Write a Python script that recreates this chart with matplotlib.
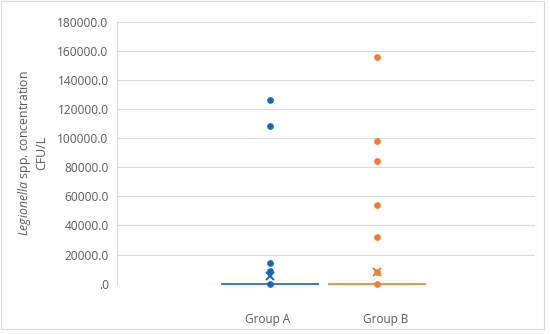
import matplotlib
matplotlib.use("Agg")
import matplotlib.pyplot as plt
from matplotlib.patches import Rectangle
from matplotlib.ticker import FuncFormatter, MultipleLocator

# values (CFU/L)
groups = ["Group A", "Group B"]
colors = ["#1565c0", "#ed7d31"]
points_a = [126000, 108000, 14500, 8500, 0]
points_b = [156000, 98000, 84000, 54000, 32000, 8000, 0]
means = [5200, 7800]
medians = [0, 0]

plt.rcParams['font.family'] = ['Open Sans', 'DejaVu Sans']
plt.rcParams['mathtext.fontset'] = 'custom'
plt.rcParams['mathtext.it'] = 'Open Sans:italic'
plt.rcParams['mathtext.rm'] = 'Open Sans'

fig = plt.figure(figsize=(5.5, 3.34), dpi=100)
W, H = 550, 334
ax = fig.add_axes([117 / W, 1 - 283.7 / H, (535 - 117) / W, (283.7 - 21.7) / H])

# chart border
fig.patches.append(Rectangle((0.5 / W, 1 - 328.5 / H), 543.5 / W, 328 / H,
                             transform=fig.transFigure, fill=False,
                             edgecolor="#d9d9d9", lw=0.8))

width = 0.916
for i, pts in enumerate([points_a, points_b]):
    c = colors[i]
    # collapsed box (quartiles and median all at the same value)
    ax.hlines(medians[i], i - width / 2, i + width / 2, colors=c, lw=1.2,
              zorder=3, clip_on=False)
    ax.plot([i] * len(pts), pts, 'o', color=c, markersize=3.8, zorder=4,
            clip_on=False)
    ax.plot([i], [means[i]], 'x', color=c, markersize=6, markeredgewidth=1.4,
            zorder=5, clip_on=False)

ax.set_xlim(-1.43, 2.477)
ax.set_ylim(0, 180000)
ax.yaxis.set_major_locator(MultipleLocator(20000))
ax.yaxis.set_major_formatter(FuncFormatter(
    lambda v, p: ".0" if v == 0 else f"{v:.1f}"))
ax.grid(axis='y', color="#d9d9d9", lw=0.8, zorder=0)
ax.set_axisbelow(True)

ax.set_xticks([-0.025, 1.085])
ax.set_xticklabels(groups)
ax.tick_params(axis='x', length=0, pad=21, labelsize=8.5, labelcolor="#595959")
ax.tick_params(axis='y', length=0, pad=6, labelsize=8.6, labelcolor="#595959")

for side in ['top', 'right', 'bottom']:
    ax.spines[side].set_visible(False)
ax.spines['left'].set_color("#d9d9d9")
ax.spines['left'].set_linewidth(0.8)

fig.text(32 / W, 1 - 153 / H,
         "$\\it{Legionella}$ spp. concentration\nCFU/L",
         rotation=90, ha='center', va='center', fontsize=8.8,
         color="#595959", multialignment='center')

fig.savefig("out.png", dpi=100)
